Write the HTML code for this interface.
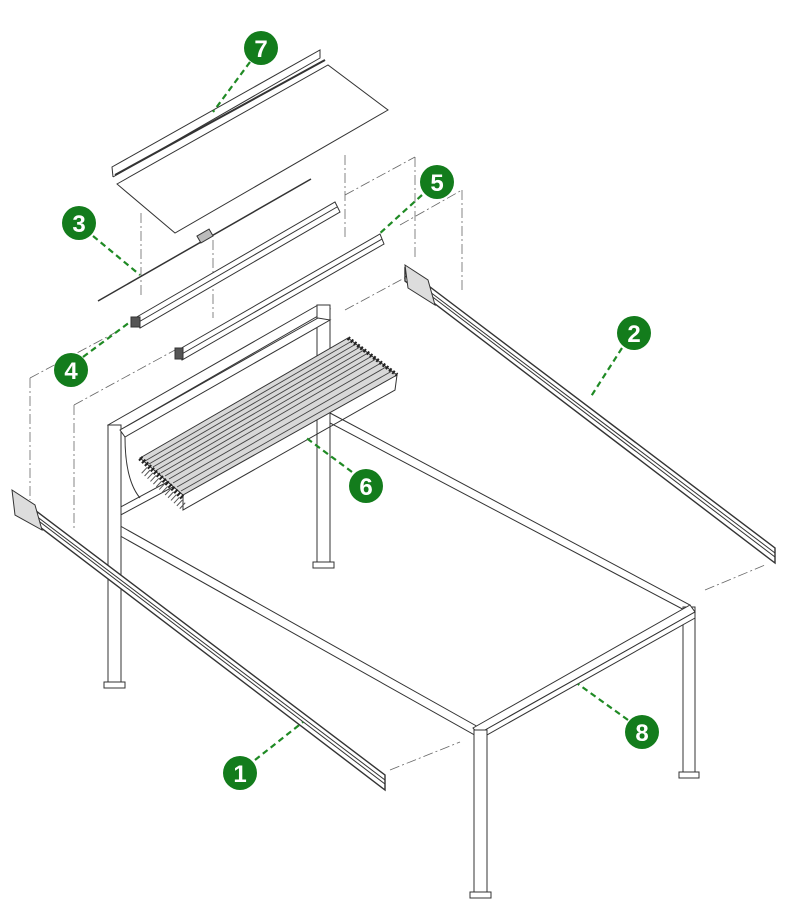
<!DOCTYPE html>
<html><head><meta charset="utf-8"><style>
html,body{margin:0;padding:0;background:#fff;}
svg{display:block}
text{font-family:"Liberation Sans",sans-serif;font-weight:bold;fill:#fff;font-size:24px;text-anchor:middle}
</style></head><body>
<svg width="800" height="920" viewBox="0 0 800 920" xmlns="http://www.w3.org/2000/svg">
<g fill="none" stroke="#333" stroke-width="1">
<g stroke="#666" stroke-width="0.8" stroke-dasharray="10,3,2,3">
<line x1="141" y1="213" x2="141" y2="295"/>
<line x1="213" y1="240" x2="213" y2="318"/>
<line x1="345" y1="155" x2="345" y2="240"/>
<line x1="345" y1="195" x2="415" y2="157"/>
<line x1="415" y1="157" x2="415" y2="260"/>
<line x1="400" y1="225" x2="462" y2="190"/>
<line x1="462" y1="190" x2="462" y2="290"/>
<line x1="30" y1="378" x2="30" y2="500"/>
<line x1="30" y1="378" x2="120" y2="330"/>
<line x1="74" y1="405" x2="74" y2="530"/>
<line x1="74" y1="405" x2="175" y2="350"/>
<line x1="345" y1="310" x2="410" y2="275"/>
<line x1="390" y1="770" x2="460" y2="742"/>
<line x1="705" y1="590" x2="765" y2="565"/>
</g>
<polygon points="117,184 328,65 388,110 175,233" />
<polyline points="113,177 112,167 320,50 320,58 113,177"/>
<line x1="115" y1="175" x2="325" y2="60" stroke-width="2"/>
<line x1="98" y1="301" x2="311" y2="179" stroke-width="1.5"/>
<rect x="198" y="232" width="14" height="8" transform="rotate(-30 205 236)" fill="#bbb"/>
<polygon points="135,318 335,202 340,212 140,328" fill="#fff"/>
<line x1="137" y1="323" x2="337" y2="207"/>
<rect x="131" y="317" width="9" height="10" fill="#555"/>
<polygon points="178,350 380,234 384,244 182,360" fill="#fff"/>
<line x1="180" y1="355" x2="382" y2="239"/>
<rect x="175" y="348" width="8" height="11" fill="#555"/>
<g fill="#fff">
<polygon points="330,413 690,605 690,613 330,423"/>
<polygon points="115,523 480,728 480,738 115,533"/>
<polygon points="108,425 318,305 330,309 120,430"/>
<polygon points="115,510 320,400 320,408 115,518"/>
<rect x="317" y="305" width="13" height="262"/>
<rect x="313" y="562" width="21" height="6"/>
<rect x="108" y="425" width="13" height="260"/>
<rect x="104" y="682" width="21" height="6"/>
<rect x="683" y="607" width="12" height="168"/>
<rect x="679" y="772" width="20" height="6"/>
<polygon points="473,728 690,605 695,612 478,734"/>
<polygon points="478,734 695,612 695,618 478,740"/>
<rect x="474" y="730" width="13" height="165"/>
<rect x="470" y="892" width="21" height="6"/>
</g>
<path d="M125,437 Q125,480 140,498"/>
<polygon points="120,430 318,318 330,320 125,437" fill="#fff"/>
<polygon points="140,458 348,338 397,375 183,495" fill="#d8d8d8"/>
<g stroke="#444" stroke-width="0.9">
<line x1="145" y1="461" x2="352" y2="341"/>
<line x1="149" y1="464" x2="356" y2="344"/>
<line x1="153" y1="467" x2="360" y2="347"/>
<line x1="157" y1="470" x2="364" y2="350"/>
<line x1="161" y1="473" x2="368" y2="353"/>
<line x1="165" y1="476" x2="372" y2="356"/>
<line x1="169" y1="479" x2="376" y2="359"/>
<line x1="173" y1="483" x2="381" y2="363"/>
<line x1="177" y1="487" x2="386" y2="367"/>
<line x1="181" y1="491" x2="392" y2="371"/>
</g>
<polyline points="183,495 183,510 395,390 397,375"/>
<line x1="140" y1="458" x2="183" y2="498" stroke="#222" stroke-width="5" stroke-dasharray="2,2"/>
<line x1="348" y1="338" x2="397" y2="375" stroke="#222" stroke-width="4" stroke-dasharray="2,2"/>
<line x1="144" y1="470" x2="185" y2="508" stroke="#555" stroke-width="8" stroke-dasharray="1,3"/>
<polygon points="15,495 385,775 385,790 15,508" fill="#fff" stroke-width="1.4"/>
<line x1="15" y1="500" x2="385" y2="780"/>
<line x1="15" y1="503" x2="385" y2="784"/>
<polygon points="12,490 35,505 42,530 15,515" fill="#ddd"/>
<polygon points="405,268 775,548 775,563 405,281" fill="#fff" stroke-width="1.4"/>
<line x1="405" y1="273" x2="775" y2="553"/>
<line x1="405" y1="276" x2="775" y2="557"/>
<polygon points="405,265 428,280 435,305 408,288" fill="#ddd"/>
</g>
<g stroke="#1f8a24" stroke-width="2.2" stroke-dasharray="6,4" fill="none">
<line x1="250" y1="62" x2="213" y2="112"/>
<line x1="422" y1="195" x2="378" y2="235"/>
<line x1="93" y1="236" x2="140" y2="275"/>
<line x1="622" y1="348" x2="590" y2="398"/>
<line x1="83" y1="357" x2="130" y2="322"/>
<line x1="352" y1="472" x2="305" y2="437"/>
<line x1="628" y1="720" x2="578" y2="684"/>
<line x1="255" y1="760" x2="303" y2="722"/>
</g>
<g fill="#137c1c">
<circle cx="261" cy="48" r="17"/><circle cx="437" cy="182" r="17"/>
<circle cx="79" cy="223" r="17"/><circle cx="634" cy="333" r="17"/>
<circle cx="71" cy="370" r="17"/><circle cx="366" cy="486" r="17"/>
<circle cx="642" cy="732" r="17"/><circle cx="240" cy="773" r="17"/>
</g>
<text x="261" y="57">7</text><text x="437" y="191">5</text>
<text x="79" y="232">3</text><text x="634" y="342">2</text>
<text x="71" y="379">4</text><text x="366" y="495">6</text>
<text x="642" y="741">8</text><text x="240" y="782">1</text>
</svg>
</body></html>
